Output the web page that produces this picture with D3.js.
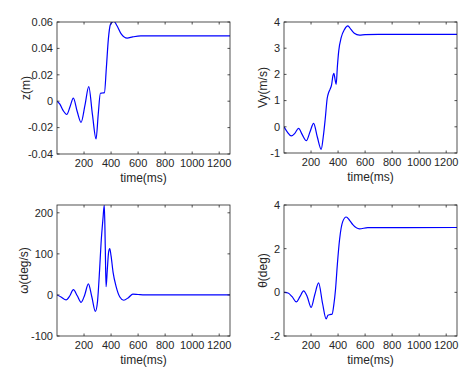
<!DOCTYPE html>
<html>
<head>
<meta charset="utf-8">
<script src="https://cdn.jsdelivr.net/npm/d3@7"></script>
<style>
  body { margin: 0; background: #fff; }
  svg { font-family: 'Liberation Sans', Arial, sans-serif; }
  .axis-line { fill: none; stroke: #262626; stroke-width: 0.8; }
  .tick-mark { stroke: #262626; stroke-width: 0.8; }
  .tick-label { fill: #262626; font-size: 11px; }
  .axis-title { fill: #262626; font-size: 12px; }
  .line { fill: none; stroke: #0000ff; stroke-width: 1.2; }
</style>
</head>
<body>
<div id="chart"></div>
<script>
// shared time axis
var timeTicks = [200, 400, 600, 800, 1000, 1200];
var timeDomain = [0, 1280];

// z(m)
var zTime = [0, 20, 45, 72, 97, 121, 150, 178, 207, 235, 262, 289, 305, 321, 336, 351, 365, 380, 395, 420, 445, 475, 519, 560, 620, 700, 1280];
var zValues = [0, -0.002, -0.007, -0.010, -0.004, 0.0024, -0.008, -0.016, -0.003, 0.011, -0.010, -0.0286, -0.010, 0.006, 0.0062, 0.0065, 0.025, 0.047, 0.058, 0.0605, 0.057, 0.051, 0.0478, 0.0487, 0.0495, 0.0495, 0.0495];
var zTicks = [-0.04, -0.02, 0, 0.02, 0.04, 0.06];

// Vy(m/s)
var vyTime = [0, 25, 54, 80, 108, 135, 165, 192, 219, 247, 275, 290, 305, 320, 330, 340, 352, 362, 369, 378, 386, 395, 405, 423, 448, 472, 495, 520, 558, 600, 700, 1280];
var vyValues = [0, -0.2, -0.35, -0.25, -0.06, -0.3, -0.53, -0.2, 0.13, -0.4, -0.86, -0.4, 0.3, 1.1, 1.3, 1.42, 1.6, 1.95, 2.04, 1.8, 1.62, 2.3, 2.9, 3.4, 3.72, 3.85, 3.72, 3.57, 3.5, 3.52, 3.53, 3.53];
var vyTicks = [-1, 0, 1, 2, 3, 4];

// omega(deg/s)
var wTime = [0, 30, 67, 95, 121, 150, 178, 205, 232, 258, 284, 300, 315, 326, 340, 350, 357, 363, 372, 382, 390, 400, 415, 437, 465, 494, 530, 561, 600, 650, 1280];
var wValues = [0, -5, -12, -2, 12.7, -2, -18, 0, 27, -5, -40, -15, 60, 126, 185, 219, 120, 20, 60, 105, 113, 95, 55, 21, -5, -13, -6, 2, 1, 0, 0];
var wTicks = [-100, 0, 100, 200];

// theta(deg)
var thTime = [0, 30, 60, 91, 118, 145, 172, 201, 228, 256, 285, 312, 325, 340, 356, 368, 381, 395, 411, 435, 460, 485, 509, 558, 620, 1280];
var thValues = [0, -0.03, -0.2, -0.44, -0.2, 0.07, -0.2, -0.69, -0.1, 0.43, -0.5, -1.22, -1.05, -1.02, -1.0, -0.6, 0.12, 1.3, 2.41, 3.25, 3.45, 3.3, 3.1, 2.91, 2.96, 2.97];
var thTicks = [-2, 0, 2, 4];

var svg = d3.select('#chart').append('svg')
  .attr('width', 466)
  .attr('height', 388);

var panels = [
  { id: 'z', left: 57, right: 230, top: 22, bottom: 154, t: zTime, v: zValues, yDomain: [-0.04, 0.06], yTicks: zTicks, yLabel: 'z(m)', labelX: 26 },
  { id: 'vy', left: 284, right: 457, top: 22, bottom: 153, t: vyTime, v: vyValues, yDomain: [-1, 4], yTicks: vyTicks, yLabel: 'Vy(m/s)', labelX: 263 },
  { id: 'w', left: 57, right: 230, top: 205, bottom: 336, t: wTime, v: wValues, yDomain: [-100, 219], yTicks: wTicks, yLabel: 'ω(deg/s)', labelX: 24 },
  { id: 'th', left: 284, right: 457, top: 205, bottom: 336, t: thTime, v: thValues, yDomain: [-2, 4], yTicks: thTicks, yLabel: 'θ(deg)', labelX: 263 }
];

var drawPanel = function (p) {
  var x = d3.scaleLinear().domain(timeDomain).range([p.left, p.right]);
  var y = d3.scaleLinear().domain(p.yDomain).range([p.bottom, p.top]);
  var g = svg.append('g');
  var tickLen = 2.5;

  svg.append('clipPath')
    .attr('id', 'clip-' + p.id)
    .append('rect')
    .attr('x', p.left)
    .attr('y', p.top)
    .attr('width', p.right - p.left)
    .attr('height', p.bottom - p.top);

  //plot series
  var line = d3.line()
    .x(function (d, i) { return x(p.t[i]); })
    .y(function (d) { return y(d); })
    .curve(d3.curveMonotoneX);

  g.append('path')
    .datum(p.v)
    .attr('class', 'line')
    .attr('clip-path', 'url(#clip-' + p.id + ')')
    .attr('d', line);

  //box
  g.append('rect')
    .attr('class', 'axis-line')
    .attr('x', p.left)
    .attr('y', p.top)
    .attr('width', p.right - p.left)
    .attr('height', p.bottom - p.top);

  //x ticks, bottom and top, pointing in
  timeTicks.forEach(function (t) {
    var xp = x(t);
    g.append('line').attr('class', 'tick-mark')
      .attr('x1', xp).attr('x2', xp)
      .attr('y1', p.bottom).attr('y2', p.bottom - tickLen);
    g.append('line').attr('class', 'tick-mark')
      .attr('x1', xp).attr('x2', xp)
      .attr('y1', p.top).attr('y2', p.top + tickLen);
    g.append('text').attr('class', 'tick-label')
      .attr('x', xp)
      .attr('y', p.bottom + 13)
      .style('text-anchor', 'middle')
      .text(t);
  });

  //y ticks, left and right
  p.yTicks.forEach(function (v) {
    var yp = y(v);
    g.append('line').attr('class', 'tick-mark')
      .attr('x1', p.left).attr('x2', p.left + tickLen)
      .attr('y1', yp).attr('y2', yp);
    g.append('line').attr('class', 'tick-mark')
      .attr('x1', p.right).attr('x2', p.right - tickLen)
      .attr('y1', yp).attr('y2', yp);
    g.append('text').attr('class', 'tick-label')
      .attr('x', p.left - 4)
      .attr('y', yp)
      .attr('dy', '0.35em')
      .style('text-anchor', 'end')
      .text(v === 0 ? '0' : v);
  });

  g.append('text').attr('class', 'axis-title')
    .attr('x', (p.left + p.right) / 2)
    .attr('y', p.bottom + 28)
    .style('text-anchor', 'middle')
    .text('time(ms)');

  g.append('text').attr('class', 'axis-title')
    .attr('transform', 'translate(' + p.labelX + ',' + ((p.top + p.bottom) / 2) + ') rotate(-90)')
    .attr('dy', '0.35em')
    .style('text-anchor', 'middle')
    .text(p.yLabel);
};

panels.forEach(drawPanel);
</script>
</body>
</html>
